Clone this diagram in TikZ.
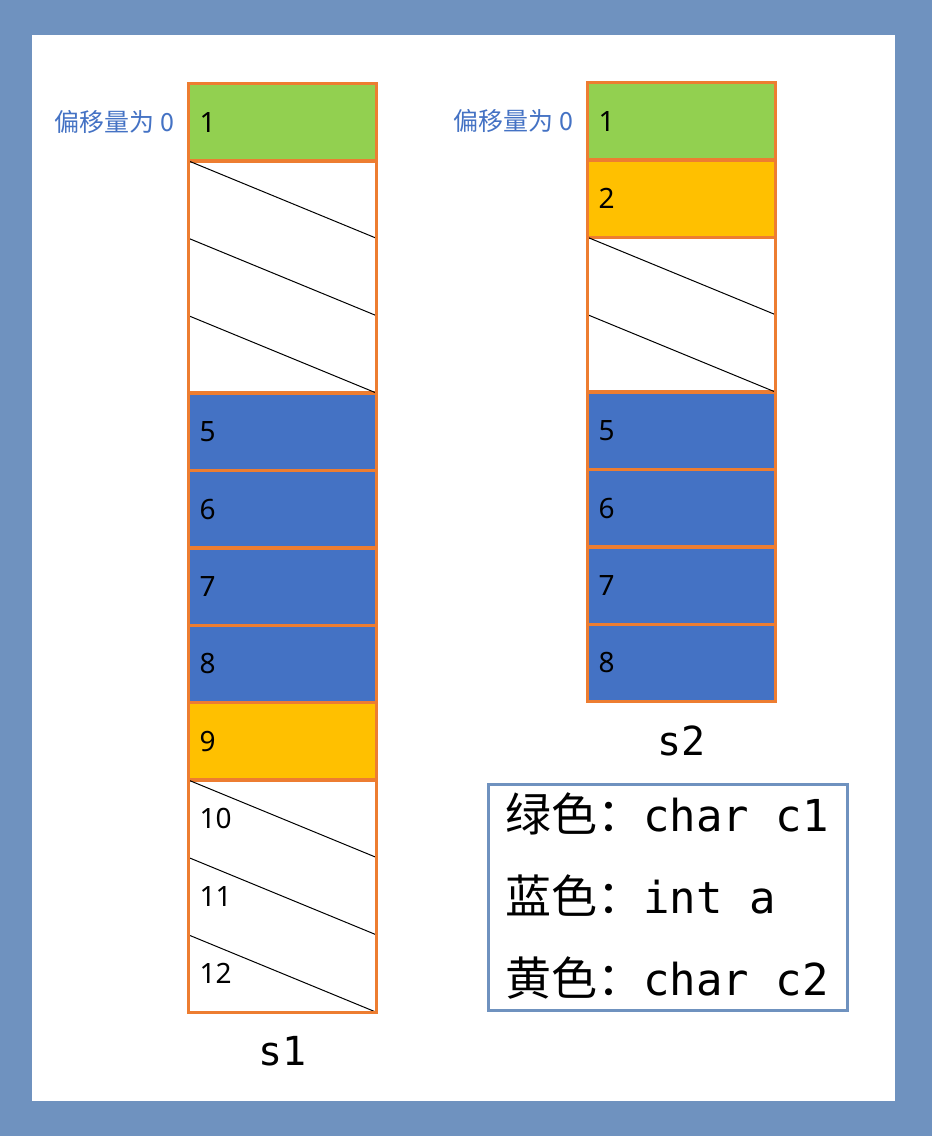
\documentclass[tikz,border=0pt]{standalone}
\usepackage{fontspec}
\newfontfamily\cjkfont{Noto Sans CJK SC}
\newfontfamily\digitfont{Noto Sans}
\newfontfamily\codefont{DejaVu Sans Mono}
\usepackage{xcolor}
\definecolor{framebg}{RGB}{111,146,191}
\definecolor{cellorange}{RGB}{237,125,49}
\definecolor{cellgreen}{RGB}{146,208,80}
\definecolor{cellblue}{RGB}{68,114,196}
\definecolor{cellyellow}{RGB}{255,192,0}
\definecolor{tagblue}{RGB}{68,114,196}
\usetikzlibrary{positioning,fit}
\newcommand\legzh[1]{{\cjkfont\fontsize{46}{50}\selectfont #1}}
\tikzset{
  cell/.style={minimum width=188pt,minimum height=77.4pt,outer sep=0pt,inner xsep=11pt,text width=166pt,align=left,font=\digitfont\fontsize{28}{30}\selectfont},
  gcell/.style={fill=cellgreen,draw=cellorange,line width=3.5pt},
  bcell/.style={fill=cellblue,draw=cellorange,line width=3.5pt},
  ycell/.style={fill=cellyellow,draw=cellorange,line width=3.5pt},
  colframe/.style={draw=cellorange,line width=3.5pt,inner sep=0pt,outer sep=0pt},
  hatch/.style={draw=black,line width=1pt},
  tag/.style={font=\cjkfont\fontsize{25}{27}\selectfont,text=tagblue,inner sep=0pt},
  colname/.style={font=\codefont\fontsize{40}{44}\selectfont,inner sep=0pt},
  legbox/.style={draw=framebg,line width=3.5pt,minimum width=359pt,minimum height=226pt,inner sep=0pt,outer sep=0pt},
  legtext/.style={font=\codefont\fontsize{44}{48}\selectfont,inner sep=0pt},
}

\begin{document}
\begin{tikzpicture}[x=1pt,y=1pt]
\useasboundingbox (0,0) rectangle (932,1136);
\fill[framebg] (0,0) rectangle (932,1136);
\fill[white] (32,35) rectangle (895,1101);

% s1: twelve slots
\node[cell,gcell] (a1) at (282.5,1013.8) {1};
\node[cell,below=0pt of a1] (a2) {};
\node[cell,below=0pt of a2] (a3) {};
\node[cell,below=0pt of a3] (a4) {};
\node[cell,bcell,below=0pt of a4] (a5) {5};
\node[cell,bcell,below=0pt of a5] (a6) {6};
\node[cell,bcell,below=0pt of a6] (a7) {7};
\node[cell,bcell,below=0pt of a7] (a8) {8};
\node[cell,ycell,below=0pt of a8] (a9) {9};
\node[cell,below=0pt of a9] (a10) {10};
\node[cell,below=0pt of a10] (a11) {11};
\node[cell,below=0pt of a11] (a12) {12};
\draw[hatch] (a2.north west) -- (a2.south east) (a3.north west) -- (a3.south east)
  (a4.north west) -- (a4.south east) (a10.north west) -- (a10.south east)
  (a11.north west) -- (a11.south east) (a12.north west) -- (a12.south east);
\node[colframe,fit=(a1)(a12)] (s1box) {};
\node[tag,left=14pt of a1] (o1) {偏移量为 0};
\node[colname,below=24pt of s1box] (n1) {s1};

% s2: eight slots
\node[cell,gcell] (b1) at (681.5,1014.8) {1};
\node[cell,ycell,below=0pt of b1] (b2) {2};
\node[cell,below=0pt of b2] (b3) {};
\node[cell,below=0pt of b3] (b4) {};
\node[cell,bcell,below=0pt of b4] (b5) {5};
\node[cell,bcell,below=0pt of b5] (b6) {6};
\node[cell,bcell,below=0pt of b6] (b7) {7};
\node[cell,bcell,below=0pt of b7] (b8) {8};
\draw[hatch] (b3.north west) -- (b3.south east) (b4.north west) -- (b4.south east);
\node[colframe,fit=(b1)(b8)] (s2box) {};
\node[tag,left=14pt of b1] (o2) {偏移量为 0};
\node[colname,below=24pt of s2box] (n2) {s2};

% legend
\node[legbox] (leg) at (668,238.5) {};
\node[legtext,anchor=west] (l1) at ([xshift=16.5pt,yshift=-29pt]leg.north west) {\legzh{绿色：}char c1};
\node[legtext,below=82.5pt of l1.west,anchor=west] (l2) {\legzh{蓝色：}int a};
\node[legtext,below=82.5pt of l2.west,anchor=west] (l3) {\legzh{黄色：}char c2};
\end{tikzpicture}
\end{document}
